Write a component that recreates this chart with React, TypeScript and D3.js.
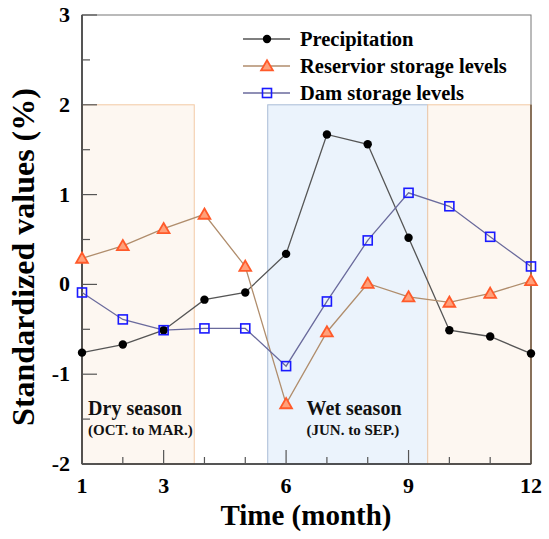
import React, { useEffect, useRef } from "react";
import * as d3 from "d3";

const months = [1, 2, 3, 4, 5, 6, 7, 8, 9, 10, 11, 12];
const precipitation = [-0.76, -0.67, -0.51, -0.17, -0.09, 0.34, 1.67, 1.56, 0.52, -0.51, -0.58, -0.77];
const reservoir = [0.29, 0.43, 0.62, 0.78, 0.2, -1.33, -0.53, 0.01, -0.14, -0.2, -0.1, 0.04];
const dam = [-0.09, -0.39, -0.51, -0.49, -0.49, -0.91, -0.19, 0.49, 1.02, 0.87, 0.53, 0.2];
const xTickLabels = [1, 3, 6, 9, 12];
const yTickLabels = [-2, -1, 0, 1, 2, 3];
const seasons = [
  { label: "Dry season", sub: "(OCT. to MAR.)", x0: 1, x1: 3.75, kind: "dry", textAt: 1.15 },
  { label: "Wet season", sub: "(JUN. to SEP.)", x0: 5.55, x1: 9.47, kind: "wet", textAt: 6.5 },
  { label: "", sub: "", x0: 9.47, x1: 12, kind: "dry", textAt: 0 },
];

const FONT = "'Liberation Serif', 'Times New Roman', serif";

export default function App() {
  const ref = useRef<SVGSVGElement>(null);

  useEffect(() => {
    const svg = d3.select(ref.current);
    svg.selectAll("*").remove();

    const left = 82, right = 531, top = 15, bottom = 464;
    const x = d3.scaleLinear().domain([1, 12]).range([left, right]);
    const y = d3.scaleLinear().domain([-2, 3]).range([bottom, top]);

    // season shading
    seasons.forEach((s) => {
      svg.append("rect")
        .attr("x", x(s.x0))
        .attr("y", y(2))
        .attr("width", x(s.x1) - x(s.x0))
        .attr("height", y(-2) - y(2))
        .attr("fill", s.kind === "dry" ? "#fdf7f1" : "#ebf3fc")
        .attr("stroke", s.kind === "dry" ? "#f3c9a5" : "#a9bcd6")
        .attr("stroke-width", 1);
      if (s.label) {
        svg.append("text")
          .attr("x", x(s.textAt))
          .attr("y", 415)
          .attr("font-family", FONT)
          .attr("font-weight", "bold")
          .attr("font-size", 20)
          .attr("fill", "#111")
          .text(s.label);
        svg.append("text")
          .attr("x", x(s.textAt))
          .attr("y", 435)
          .attr("font-family", FONT)
          .attr("font-weight", "bold")
          .attr("font-size", 15)
          .attr("fill", "#111")
          .text(s.sub);
      }
    });

    // frame
    svg.append("rect")
      .attr("x", left).attr("y", top)
      .attr("width", right - left).attr("height", bottom - top)
      .attr("fill", "none").attr("stroke", "#777").attr("stroke-width", 1);
    svg.append("line")
      .attr("x1", right).attr("x2", right).attr("y1", y(2)).attr("y2", bottom)
      .attr("stroke", "#6b4a2a").attr("stroke-width", 1.2);
    svg.append("line")
      .attr("x1", left).attr("x2", left).attr("y1", top).attr("y2", bottom)
      .attr("stroke", "#333").attr("stroke-width", 1.5);
    svg.append("line")
      .attr("x1", left).attr("x2", right).attr("y1", bottom).attr("y2", bottom)
      .attr("stroke", "#333").attr("stroke-width", 1.5);

    // y ticks
    d3.range(-2, 3.01, 0.5).forEach((v) => {
      const major = Math.abs(v - Math.round(v)) < 1e-6;
      svg.append("line")
        .attr("x1", left).attr("x2", left + (major ? 15 : 8))
        .attr("y1", y(v)).attr("y2", y(v))
        .attr("stroke", "#555").attr("stroke-width", 1.2);
    });
    yTickLabels.forEach((v) => {
      svg.append("text")
        .attr("x", 70).attr("y", y(v) + 7)
        .attr("text-anchor", "end")
        .attr("font-family", FONT).attr("font-weight", "bold").attr("font-size", 22)
        .text(v);
    });

    // x ticks
    months.forEach((m) => {
      const major = xTickLabels.includes(m);
      svg.append("line")
        .attr("x1", x(m)).attr("x2", x(m))
        .attr("y1", bottom).attr("y2", bottom - (major && m !== 1 ? 14 : 7))
        .attr("stroke", "#555").attr("stroke-width", 1.2);
    });
    xTickLabels.forEach((v) => {
      svg.append("text")
        .attr("x", x(v)).attr("y", 493)
        .attr("text-anchor", "middle")
        .attr("font-family", FONT).attr("font-weight", "bold").attr("font-size", 22)
        .text(v);
    });

    // axis titles
    svg.append("text")
      .attr("x", 306).attr("y", 525)
      .attr("text-anchor", "middle")
      .attr("font-family", FONT).attr("font-weight", "bold").attr("font-size", 29)
      .text("Time (month)");
    svg.append("text")
      .attr("transform", `translate(34, 257) rotate(-90)`)
      .attr("text-anchor", "middle")
      .attr("font-family", FONT).attr("font-weight", "bold").attr("font-size", 32)
      .text("Standardized values (%)");

    const series = [
      { name: "Precipitation", values: precipitation, line: "#555", marker: "circle" },
      { name: "Reservior storage levels", values: reservoir, line: "#b08d6c", marker: "triangle" },
      { name: "Dam storage levels", values: dam, line: "#6a6a9c", marker: "square" },
    ];

    const drawMarker = (g: any, type: string, cx: number, cy: number) => {
      if (type === "circle") {
        g.append("circle").attr("cx", cx).attr("cy", cy).attr("r", 4.2).attr("fill", "#000");
      } else if (type === "triangle") {
        g.append("path")
          .attr("d", d3.symbol(d3.symbolTriangle, 60)())
          .attr("transform", `translate(${cx},${cy + 1})`)
          .attr("fill", "#ffa07a").attr("stroke", "#ff5a2a").attr("stroke-width", 1.8);
      } else {
        g.append("rect")
          .attr("x", cx - 4.5).attr("y", cy - 4.5).attr("width", 9).attr("height", 9)
          .attr("fill", "none").attr("stroke", "#1a1aff").attr("stroke-width", 1.6);
      }
    };

    const line = d3.line<number>().x((_, i) => x(months[i])).y((d) => y(d));
    series.forEach((s) => {
      svg.append("path")
        .attr("d", line(s.values))
        .attr("fill", "none").attr("stroke", s.line).attr("stroke-width", 1.3);
    });
    series.forEach((s) => {
      const g = svg.append("g");
      s.values.forEach((v, i) => drawMarker(g, s.marker, x(months[i]), y(v)));
    });

    // legend
    series.forEach((s, i) => {
      const ly = 39 + i * 27;
      const g = svg.append("g");
      g.append("line").attr("x1", 243).attr("x2", 290).attr("y1", ly).attr("y2", ly)
        .attr("stroke", s.line).attr("stroke-width", 1.5);
      drawMarker(g, s.marker, 267, ly);
      g.append("text")
        .attr("x", 300).attr("y", ly + 7)
        .attr("font-family", FONT).attr("font-weight", "bold").attr("font-size", 20.5)
        .text(s.name);
    });
  }, []);

  return (
    <svg ref={ref} width={549} height={539}
      style={{ position: "absolute", left: 0, top: 0, background: "#fff" }} />
  );
}
